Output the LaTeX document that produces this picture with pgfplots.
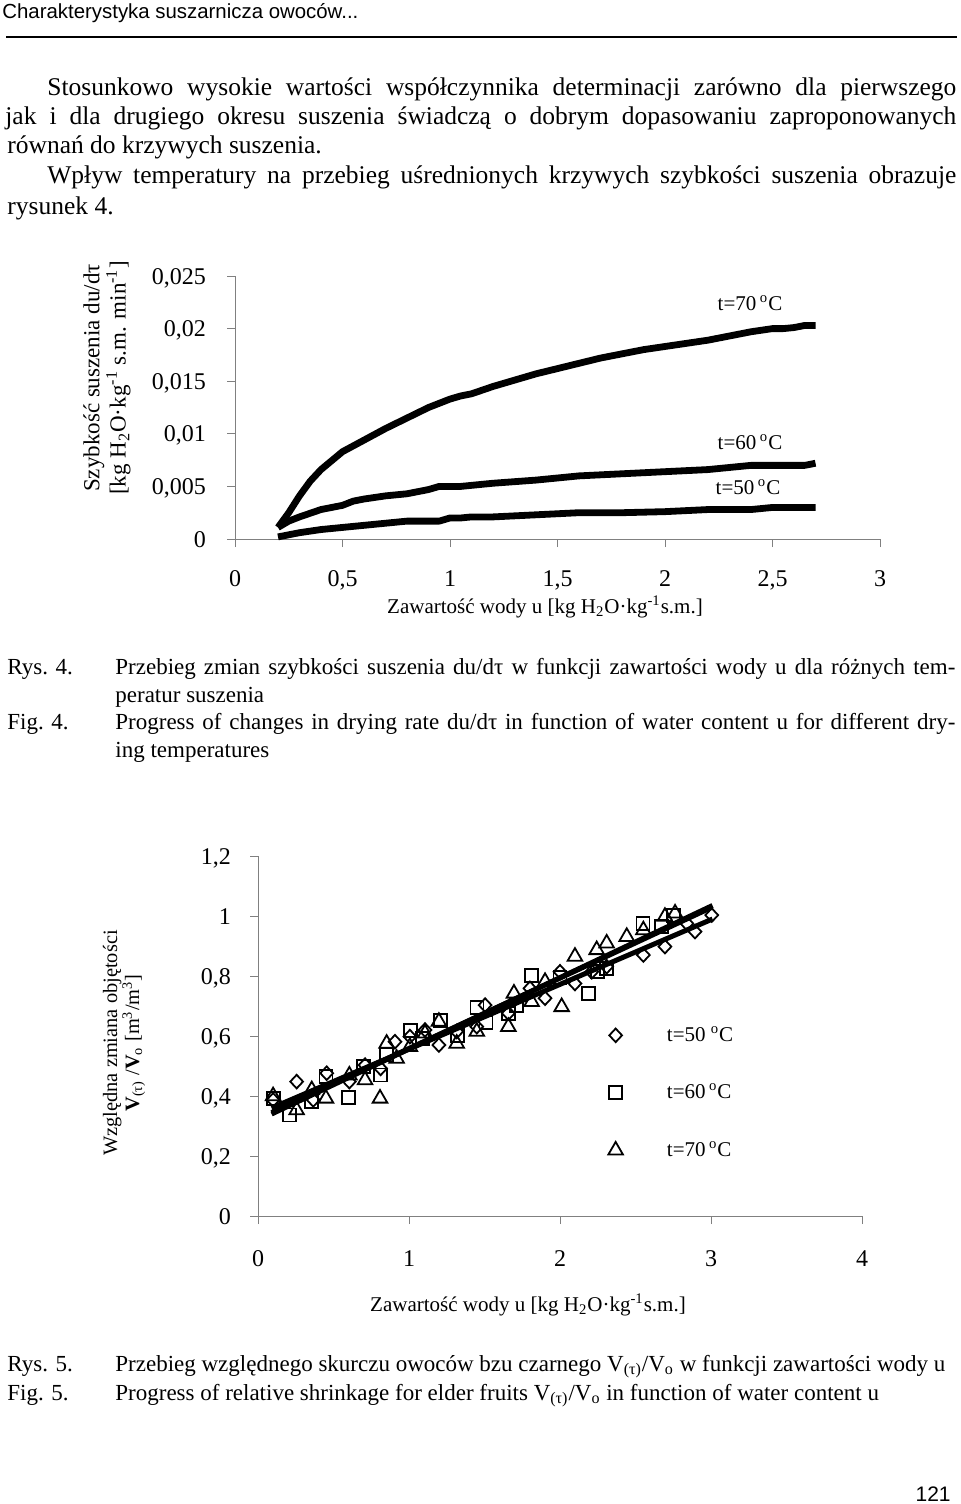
\documentclass[border=0pt]{standalone}
\usepackage{fontspec}
\setmainfont{Liberation Serif}
\newfontfamily\arial{Liberation Sans}
\usepackage{pgfplots}
\pgfplotsset{compat=1.18}
\newcommand\bodyfont{\fontsize{12.75}{15}\selectfont}
\newcommand\capfont{\fontsize{11.5}{13}\selectfont}
\begin{document}
\begin{tikzpicture}
\path[use as bounding box] (0,0) rectangle (480pt,-752pt);
\begin{scope}[x=0.5pt,y=-0.5pt]
% header
\node[anchor=base west, inner sep=0, font=\arial\fontsize{10.2}{12}\selectfont] at (2,19) {Charakterystyka suszarnicza owoców...};
\draw[line width=1pt] (6,37) -- (957,37);
% body text
\node[anchor=base west, inner sep=0, font=\bodyfont] at (47,96) {\makebox[454.5pt][s]{Stosunkowo wysokie wartości współczynnika determinacji zarówno dla pierwszego}};
\node[anchor=base west, inner sep=0, font=\bodyfont] at (5,125) {\makebox[475.5pt][s]{jak i dla drugiego okresu suszenia świadczą o dobrym dopasowaniu zaproponowanych}};
\node[anchor=base west, inner sep=0, font=\bodyfont] at (7,154) {równań do krzywych suszenia.};
\node[anchor=base west, inner sep=0, font=\bodyfont] at (47,184) {\makebox[454.5pt][s]{Wpływ temperatury na przebieg uśrednionych krzywych szybkości suszenia obrazuje}};
\node[anchor=base west, inner sep=0, font=\bodyfont] at (7,214) {rysunek 4.};
% chart 1 labels
\node[rotate=90, align=center, inner sep=0, font=\fontsize{11.5}{10.5}\selectfont] at (107,378) {Szybkość suszenia du/dτ\\{}[kg H\textsubscript{2}O·kg\textsuperscript{-1} s.m. min\textsuperscript{-1}]};
\node[anchor=base, inner sep=0, font=\fontsize{10.5}{12}\selectfont] at (545,613) {Zawartość wody u [kg H\textsubscript{2}O·kg\textsuperscript{-1}s.m.]};
\node[inner sep=0, font=\fontsize{10.5}{12}\selectfont] at (750,303) {t=70\,\textsuperscript{o}C};
\node[inner sep=0, font=\fontsize{10.5}{12}\selectfont] at (750,442) {t=60\,\textsuperscript{o}C};
\node[inner sep=0, font=\fontsize{10.5}{12}\selectfont] at (748,487) {t=50\,\textsuperscript{o}C};
% caption 4
\node[anchor=base west, inner sep=0, font=\capfont] at (7,674) {Rys. 4.};
\node[anchor=base west, inner sep=0, font=\capfont] at (115,674) {\makebox[420pt][s]{Przebieg zmian szybkości suszenia du/dτ w funkcji zawartości wody u dla różnych tem-}};
\node[anchor=base west, inner sep=0, font=\capfont] at (115,702) {peratur suszenia};
\node[anchor=base west, inner sep=0, font=\capfont] at (7,729) {Fig. 4.};
\node[anchor=base west, inner sep=0, font=\capfont] at (115,729) {\makebox[420pt][s]{Progress of changes in drying rate du/dτ in function of water content u for different dry-}};
\node[anchor=base west, inner sep=0, font=\capfont] at (115,757) {ing temperatures};
% chart 2 labels
\node[rotate=90, align=center, inner sep=0, font=\fontsize{10.2}{11}\selectfont] at (124,1043) {Względna zmiana objętości\\\textbf{V}\textsubscript{(τ)} /\textbf{V}\textsubscript{o} [m\textsuperscript{3}/m\textsuperscript{3}]};
\node[anchor=base, inner sep=0, font=\fontsize{10.5}{12}\selectfont] at (528,1311) {Zawartość wody u [kg H\textsubscript{2}O·kg\textsuperscript{-1}s.m.]};
% caption 5
\node[anchor=base west, inner sep=0, font=\capfont] at (7,1371) {Rys. 5.};
\node[anchor=base west, inner sep=0, font=\capfont] at (115,1371) {Przebieg względnego skurczu owoców bzu czarnego V\textsubscript{(τ)}/V\textsubscript{o} w funkcji zawartości wody u};
\node[anchor=base west, inner sep=0, font=\capfont] at (7,1400) {Fig. 5.};
\node[anchor=base west, inner sep=0, font=\capfont] at (115,1400) {Progress of relative shrinkage for elder fruits V\textsubscript{(τ)}/V\textsubscript{o} in function of water content u};
\node[anchor=base east, inner sep=0, font=\arial\fontsize{10.5}{12}\selectfont] at (951,1501) {121};
\end{scope}

% ---------- chart 1 ----------
\begin{axis}[
  at={(117.5pt,-269.5pt)}, anchor=south west,
  scale only axis, width=322.5pt, height=131.5pt,
  xmin=0, xmax=3, ymin=0, ymax=0.025,
  axis x line*=bottom, axis y line*=left,
  axis line style={gray, line width=0.5pt, -},
  xtick={0,0.5,1,1.5,2,2.5,3},
  xticklabels={{0},{0,5},{1},{1,5},{2},{2,5},{3}},
  ytick={0,0.005,0.01,0.015,0.02,0.025},
  yticklabels={{0},{0,005},{0,01},{0,015},{0,02},{0,025}},
  scaled y ticks=false,
  typeset ticklabels with strut,
  tick align=outside, major tick length=4pt,
  tick style={gray, line width=0.5pt},
  ticklabel style={font=\fontsize{12}{12}\selectfont},
  xticklabel style={yshift=-8pt},
  yticklabel style={xshift=-7pt, yshift=-1.6pt},
  clip=false,
]
\addplot[black, line width=3.4pt, line join=round] coordinates {
(0.2,0.0011) (0.25,0.0025) (0.3,0.0041) (0.35,0.0055) (0.4,0.0066) (0.5,0.0083) (0.6,0.0094) (0.7,0.0105) (0.8,0.0115) (0.9,0.0125) (1.0,0.0133) (1.05,0.0136) (1.1,0.0138) (1.2,0.0145) (1.3,0.0151) (1.4,0.0157) (1.5,0.0162) (1.6,0.0167) (1.7,0.0172) (1.8,0.0176) (1.9,0.0180) (2.0,0.0183) (2.1,0.0186) (2.2,0.0189) (2.3,0.0193) (2.4,0.0197) (2.5,0.0200) (2.55,0.0200) (2.6,0.0201) (2.65,0.0203) (2.7,0.0203)};
\addplot[black, line width=3.4pt, line join=round] coordinates {
(0.2,0.0011) (0.25,0.0017) (0.3,0.0021) (0.4,0.0028) (0.5,0.0032) (0.55,0.0036) (0.6,0.0038) (0.7,0.0041) (0.8,0.0043) (0.9,0.0047) (0.95,0.0050) (1.05,0.0050) (1.2,0.0053) (1.4,0.0056) (1.6,0.0060) (1.8,0.0062) (2.0,0.0064) (2.2,0.0066) (2.4,0.0070) (2.6,0.0070) (2.65,0.0070) (2.7,0.0072)};
\addplot[black, line width=3.4pt, line join=round] coordinates {
(0.2,0.0002) (0.3,0.0006) (0.4,0.0009) (0.5,0.0011) (0.6,0.0013) (0.7,0.0015) (0.8,0.0017) (0.95,0.0017) (1.0,0.0020) (1.05,0.0020) (1.1,0.0021) (1.2,0.0021) (1.4,0.0023) (1.6,0.0025) (1.8,0.0025) (2.0,0.0026) (2.2,0.0028) (2.4,0.0028) (2.5,0.0030) (2.7,0.0030)};
\end{axis}

% ---------- chart 2 ----------
\begin{axis}[
  at={(129pt,-608pt)}, anchor=south west,
  scale only axis, width=302pt, height=180pt,
  xmin=0, xmax=4, ymin=0, ymax=1.2,
  axis x line*=bottom, axis y line*=left,
  axis line style={gray, line width=0.5pt, -},
  xtick={0,1,2,3,4},
  xticklabels={{0},{1},{2},{3},{4}},
  ytick={0,0.2,0.4,0.6,0.8,1,1.2},
  yticklabels={{0},{0,2},{0,4},{0,6},{0,8},{1},{1,2}},
  typeset ticklabels with strut,
  tick align=outside, major tick length=4pt,
  tick style={gray, line width=0.5pt},
  ticklabel style={font=\fontsize{12}{12}\selectfont},
  xticklabel style={yshift=-9.5pt},
  yticklabel style={xshift=-6pt, yshift=-1.6pt},
  clip=false,
  legend style={draw=none, fill=none, at={(0.5695,0.55)}, anchor=north west, row sep=15.8pt, column sep=20pt, font=\fontsize{10.5}{12}\selectfont},
  legend cell align=left,
]
\addplot[only marks, black, mark=diamond, mark size=3.4pt, mark options={xscale=1.25, line width=0.9pt}] coordinates {
(0.10,0.387) (0.256,0.448) (0.366,0.387) (0.455,0.476) (0.605,0.448) (0.709,0.503) (0.812,0.492) (0.907,0.581) (1.006,0.598) (1.106,0.620) (1.198,0.570) (1.316,0.615) (1.449,0.631) (1.504,0.703) (1.658,0.676) (1.801,0.759) (1.901,0.726) (2.000,0.814) (2.099,0.775) (2.210,0.814) (2.309,0.831) (2.552,0.870) (2.695,0.898) (2.840,0.975) (2.894,0.948) (3.005,1.003)};
\addlegendentry{t=50 \textsuperscript{o}C}
\addplot[only marks, black, mark=square, mark size=3.25pt, mark options={line width=0.9pt}] coordinates {
(0.10,0.392) (0.21,0.337) (0.356,0.381) (0.45,0.464) (0.60,0.396) (0.70,0.498) (0.81,0.470) (0.85,0.537) (1.01,0.618) (1.09,0.592) (1.21,0.651) (1.32,0.603) (1.45,0.696) (1.51,0.644) (1.66,0.676) (1.71,0.703) (1.81,0.803) (2.00,0.796) (2.19,0.742) (2.25,0.814) (2.31,0.826) (2.55,0.976) (2.67,0.964) (2.75,1.003)};
\addlegendentry{t=60\,\textsuperscript{o}C}
\addplot[only marks, black, mark=triangle, mark size=4.2pt, mark options={line width=0.9pt}] coordinates {
(0.10,0.400) (0.256,0.353) (0.356,0.420) (0.45,0.392) (0.605,0.469) (0.709,0.453) (0.808,0.392) (0.852,0.575) (0.918,0.525) (1.006,0.564) (1.106,0.609) (1.198,0.648) (1.316,0.575) (1.449,0.615) (1.658,0.631) (1.695,0.742) (1.812,0.714) (1.901,0.781) (2.011,0.697) (2.099,0.865) (2.243,0.887) (2.309,0.909) (2.442,0.931) (2.552,0.953) (2.695,0.998) (2.762,1.009)};
\addlegendentry{t=70\,\textsuperscript{o}C}
\addplot[black, line width=2.5pt, forget plot] coordinates {(0.09,0.360) (3.01,0.990)};
\addplot[black, line width=2.5pt, forget plot] coordinates {(0.09,0.345) (3.01,1.030)};
\addplot[black, line width=2.5pt, forget plot] coordinates {(0.09,0.340) (3.01,1.035)};
\end{axis}
\end{tikzpicture}
\end{document}
